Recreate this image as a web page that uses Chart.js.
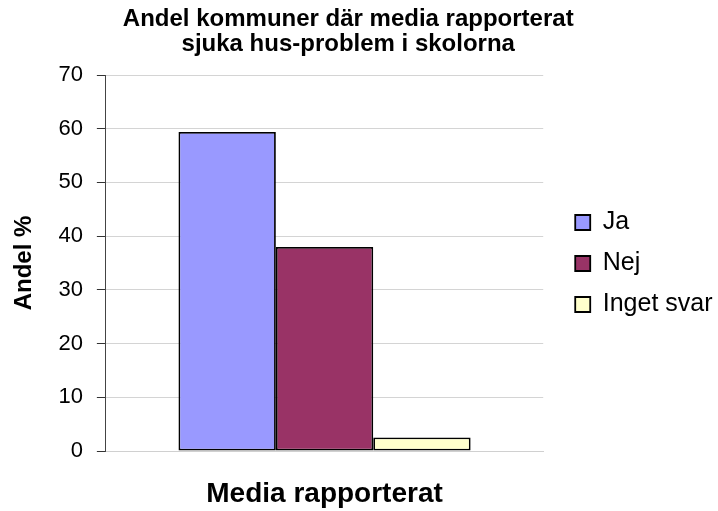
<!DOCTYPE html>
<html>
<head>
<meta charset="utf-8">
<script src="https://cdn.jsdelivr.net/npm/chart.js@4"></script>
<style>
  html, body { margin: 0; padding: 0; background: #fff; }
  #wrap { width: 718px; height: 511px; }
</style>
</head>
<body>
<div id="wrap"><canvas id="chart" width="718" height="511"></canvas></div>
<script>
const categories = [''];
const seriesNames = ['Ja', 'Nej', 'Inget svar'];
const jaValues = [59.4];
const nejValues = [38.0];
const ingetSvarValues = [2.5];
const seriesColors = ['#9999FF', '#993366', '#FFFFCC'];
const yTicks = [0, 10, 20, 30, 40, 50, 60, 70];

const FONT = "'Liberation Sans', Arial, sans-serif";

const seriesValues = [jaValues, nejValues, ingetSvarValues];
const datasets = seriesNames.map((name, i) => ({
    label: name,
    data: seriesValues[i],
    backgroundColor: seriesColors[i],
    borderColor: '#000',
    borderWidth: 1.8,
    borderSkipped: false,
    categoryPercentage: 0.668,
    barPercentage: 1,
}));

// nudge legend and title a bit, the built-in layout can't place them like the original
const nudgeBoxes = {
    id: 'nudgeBoxes',
    afterLayout(chart) {
        if (chart.legend) {
            chart.legend.left += 16;
            chart.legend.right += 16;
            chart.legend.top += 8;
            chart.legend.bottom += 8;
        }
        if (chart.titleBlock) {
            chart.titleBlock.left -= 7;
            chart.titleBlock.right -= 7;
        }
    },
};

new Chart(document.getElementById('chart').getContext('2d'), {
    type: 'bar',
    data: { labels: categories, datasets },
    plugins: [nudgeBoxes],
    options: {
        responsive: false,
        animation: false,
        layout: { padding: { top: 0, right: 11.5, bottom: 0, left: 4 } },
        plugins: {
            title: {
                display: true,
                text: ['Andel kommuner där media rapporterat', 'sjuka hus-problem i skolorna'],
                color: '#000',
                font: { family: FONT, size: 24, weight: 'bold', lineHeight: 1.05 },
                padding: { top: 7, bottom: 17.6 },
            },
            legend: {
                position: 'right',
                labels: {
                    color: '#000',
                    font: { family: FONT, size: 25 },
                    boxWidth: 15,
                    boxHeight: 15,
                    padding: 16,
                },
            },
            tooltip: { enabled: false },
        },
        scales: {
            x: {
                grid: { display: false, drawTicks: false },
                border: { color: '#d0d0d0' },
                ticks: { display: false },
                title: {
                    display: true,
                    text: 'Media rapporterat',
                    color: '#000',
                    font: { family: FONT, size: 28, weight: 'bold', lineHeight: 1.0 },
                    padding: { top: 29, bottom: 3 },
                },
            },
            y: {
                min: 0,
                max: 70,
                afterBuildTicks(axis) {
                    axis.ticks = yTicks.map((v) => ({ value: v }));
                },
                grid: { color: '#d4d4d4', tickColor: '#333', tickLength: 9 },
                border: { color: '#444' },
                ticks: {
                    color: '#000',
                    font: { family: FONT, size: 22 },
                    padding: 14,
                },
                title: {
                    display: true,
                    text: 'Andel %',
                    color: '#000',
                    font: { family: FONT, size: 24, weight: 'bold' },
                    padding: { top: 5.6, bottom: 6 },
                },
            },
        },
    },
});
</script>
</body>
</html>
